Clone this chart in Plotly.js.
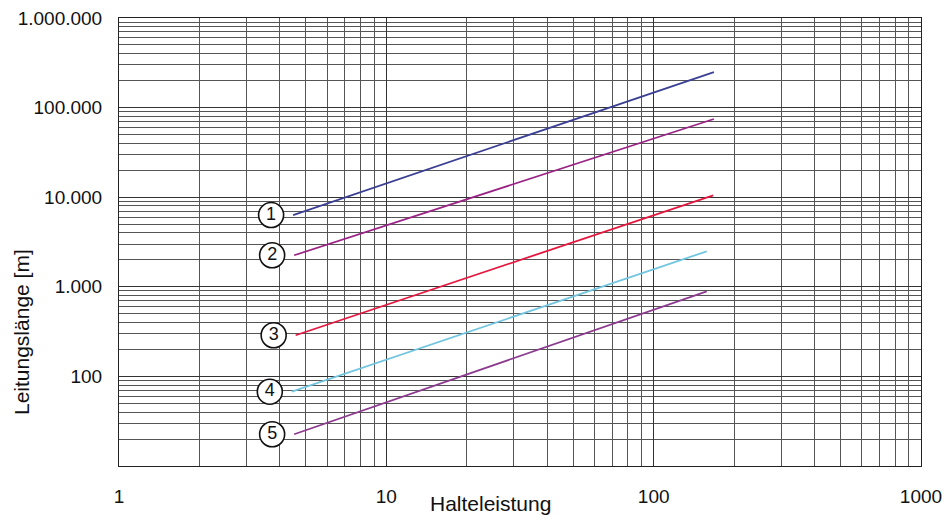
<!DOCTYPE html>
<html>
<head>
<meta charset="utf-8">
<script src="https://cdn.plot.ly/plotly-3.0.1.min.js"></script>
<style>html,body{margin:0;padding:0;background:#fff;}#chart{width:950px;height:515px;}</style>
</head>
<body>
<div id="chart"></div>
<script>
// Data
const seriesNames = ["1", "2", "3", "4", "5"];
const series1X = [4.48, 168];
const series1Y = [6320, 249000];
const series2X = [4.52, 168];
const series2Y = [2250, 74600];
const series3X = [4.58, 167];
const series3Y = [288, 10500];
const series4X = [4.43, 158];
const series4Y = [67.5, 2490];
const series5X = [4.52, 158];
const series5Y = [22.6, 891];
const xTickVals = [1, 10, 100, 1000];
const xTickText = ["1", "10", "100", "1000"];
const yTickVals = [100, 1000, 10000, 100000, 1000000];
const yTickText = ["100", "1.000", "10.000", "100.000", "1.000.000"];

const colors = ["#3b3f94", "#9a2486", "#e5173f", "#73c6e0", "#8b3a8f"];
const allX = [series1X, series2X, series3X, series4X, series5X];
const allY = [series1Y, series2Y, series3Y, series4Y, series5Y];

const traces = allX.map((xs, i) => ({
  x: xs, y: allY[i], type: "scatter", mode: "lines",
  line: {color: colors[i], width: 1.8}, hoverinfo: "skip", showlegend: false
}));

// circled labels placed a fixed pixel offset left of each line start
const xDecadePx = 802 / 3;
const labelOffsetPx = 22;
traces.push({
  x: allX.map(xs => xs[0] / Math.pow(10, labelOffsetPx / xDecadePx)),
  y: allY.map(ys => ys[0]),
  text: seriesNames,
  type: "scatter", mode: "markers+text",
  marker: {symbol: "circle", size: 25, color: "#fff", line: {color: "#111", width: 1.6}},
  textposition: "middle center",
  textfont: {family: "Liberation Sans, Arial, sans-serif", size: 18, color: "#111"},
  hoverinfo: "skip", showlegend: false, cliponaxis: false
});

const minorVals = [];
for (let d = 1; d <= 1000000; d *= 10) for (let k = 2; k <= 9; k++) minorVals.push(k * d);

const font = {family: "Liberation Sans, Arial, sans-serif", color: "#111"};
const layout = {
  width: 950, height: 515,
  margin: {l: 119, r: 29, t: 18, b: 49},
  paper_bgcolor: "#fff", plot_bgcolor: "#fff",
  font: font,
  xaxis: {
    type: "log", range: [0, 3],
    tickmode: "array", tickvals: xTickVals, ticktext: xTickText,
    tickfont: {size: 19, color: "#111"},
    ticks: "", ticklabelstandoff: 13,
    showgrid: true, gridcolor: "#333", gridwidth: 1,
    minor: {tickmode: "array", tickvals: minorVals, showgrid: true, gridcolor: "#555", gridwidth: 1, ticks: ""},
    showline: true, linecolor: "#222", linewidth: 1, mirror: true, zeroline: false
  },
  yaxis: {
    type: "log", range: [1, 6],
    tickmode: "array", tickvals: yTickVals, ticktext: yTickText,
    tickfont: {size: 19, color: "#111"},
    ticks: "", ticklabelstandoff: 12,
    showgrid: true, gridcolor: "#333", gridwidth: 1,
    minor: {tickmode: "array", tickvals: minorVals, showgrid: true, gridcolor: "#555", gridwidth: 1, ticks: ""},
    showline: true, linecolor: "#222", linewidth: 1, mirror: true, zeroline: false
  },
  annotations: [
    {text: "Halteleistung", xref: "paper", yref: "paper", x: 0.4638, y: -0.0826,
     xanchor: "center", yanchor: "middle", showarrow: false, font: {size: 21, color: "#111"}},
    {text: "Leitungslänge [m]", xref: "paper", yref: "paper", x: -0.1222, y: 0.299,
     xanchor: "center", yanchor: "middle", textangle: -90, showarrow: false, font: {size: 21, color: "#111"}}
  ]
};

Plotly.newPlot("chart", traces, layout, {displayModeBar: false, staticPlot: true});
</script>
</body>
</html>
